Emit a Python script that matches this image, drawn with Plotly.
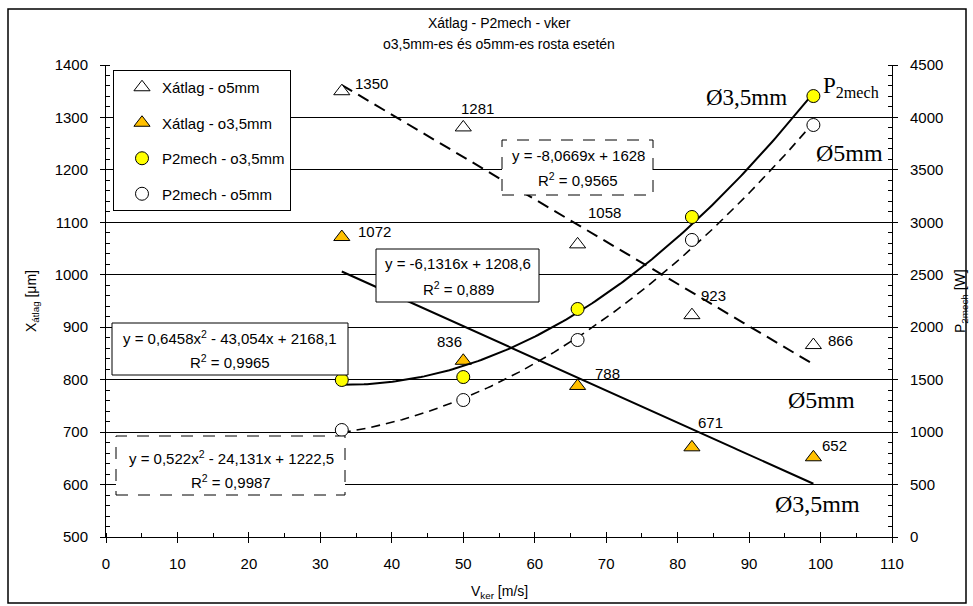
import numpy as np
import plotly.graph_objects as go

# ---------------- data ----------------
v_ker = [33, 50, 66, 82, 99]
x_atlag_5 = [1350, 1281, 1058, 923, 866]
x_atlag_35 = [1072, 836, 788, 671, 652]
p2mech_35 = [1497, 1525, 2174, 3051, 4204]
p2mech_5 = [1020, 1306, 1878, 2832, 3928]

# trendline coefficients (highest power first), as printed on the chart
fit_x5 = [-8.0669, 1628]
fit_x35 = [-6.1316, 1208.6]
fit_p35 = [0.6458, -43.054, 2168.1]
fit_p5 = [0.522, -24.131, 1222.5]
r2_x5 = 0.9565
r2_x35 = 0.889
r2_p35 = 0.9965
r2_p5 = 0.9987

x_ticks = list(range(0, 111, 10))
y_left_range = [500, 1400]
y_right_range = [0, 4500]

# ---------------- layout constants ----------------
W, H = 973, 606
L, R, T, B = 106, 892, 65, 537
FONT = "Liberation Sans, Arial, sans-serif"
SERIF = "Liberation Serif, Times New Roman, serif"


def PX(px):
    return (px - L) / (R - L)


def PY(py):
    return (B - py) / (B - T)


def num(v):
    return f"{abs(v):g}".replace(".", ",")


def equation(coefs):
    n = len(coefs) - 1
    parts = []
    for i, c in enumerate(coefs):
        p = n - i
        var = "x<sup>2</sup>" if p == 2 else ("x" if p == 1 else "")
        if i == 0:
            parts.append(("-" if c < 0 else "") + num(c) + var)
        else:
            parts.append((" - " if c < 0 else " + ") + num(c) + var)
    return "y = " + "".join(parts)


def r2text(r):
    return "R<sup>2</sup> = " + f"{r:g}".replace(".", ",")


xs = np.linspace(min(v_ker), max(v_ker), 150)

fig = go.Figure()

# trendlines
fig.add_trace(go.Scatter(x=xs, y=np.polyval(fit_x5, xs), mode="lines",
                         line=dict(color="black", width=2, dash="12px,7px"),
                         showlegend=False, hoverinfo="skip", yaxis="y"))
fig.add_trace(go.Scatter(x=xs, y=np.polyval(fit_x35, xs), mode="lines",
                         line=dict(color="black", width=2),
                         showlegend=False, hoverinfo="skip", yaxis="y"))
fig.add_trace(go.Scatter(x=xs, y=np.polyval(fit_p35, xs), mode="lines",
                         line=dict(color="black", width=2),
                         showlegend=False, hoverinfo="skip", yaxis="y2"))
fig.add_trace(go.Scatter(x=xs, y=np.polyval(fit_p5, xs), mode="lines",
                         line=dict(color="black", width=1.6, dash="9px,6px"),
                         showlegend=False, hoverinfo="skip", yaxis="y2"))

# markers
fig.add_trace(go.Scatter(x=v_ker, y=x_atlag_5, mode="markers", name="Xátlag - o5mm",
                         legendgroup="a", yaxis="y",
                         marker=dict(symbol="triangle-up", size=14, color="white",
                                     line=dict(color="black", width=1))))
fig.add_trace(go.Scatter(x=v_ker, y=x_atlag_35, mode="markers", name="Xátlag - o3,5mm",
                         legendgroup="b", yaxis="y",
                         marker=dict(symbol="triangle-up", size=14, color="#FFC000",
                                     line=dict(color="black", width=1))))
fig.add_trace(go.Scatter(x=v_ker, y=p2mech_35, mode="markers", name="P2mech - o3,5mm",
                         legendgroup="c", yaxis="y2",
                         marker=dict(symbol="circle", size=13, color="#FFFF00",
                                     line=dict(color="black", width=1))))
fig.add_trace(go.Scatter(x=v_ker, y=p2mech_5, mode="markers", name="P2mech - o5mm",
                         legendgroup="d", yaxis="y2",
                         marker=dict(symbol="circle", size=13, color="white",
                                     line=dict(color="black", width=1))))

# dummy traces for the inner halves of crossing major ticks
fig.add_trace(go.Scatter(x=[], y=[], xaxis="x2", yaxis="y3", showlegend=False, hoverinfo="skip"))
fig.add_trace(go.Scatter(x=[], y=[], xaxis="x2", yaxis="y4", showlegend=False, hoverinfo="skip"))

tickfont = dict(family=FONT, size=15, color="black")

fig.update_layout(
    width=W, height=H,
    margin=dict(l=L, r=W - R, t=T, b=H - B, pad=0),
    paper_bgcolor="white", plot_bgcolor="white",
    font=dict(family=FONT, size=15, color="black"),
    xaxis=dict(range=[0, 110], tickvals=x_ticks, ticks="outside", ticklen=5,
               tickcolor="black", showline=True, linecolor="black", linewidth=1,
               showgrid=False, zeroline=False, tickfont=tickfont, ticklabelstandoff=8,
               minor=dict(dtick=5, tick0=0, ticks="inside", ticklen=4, tickcolor="black",
                          showgrid=False)),
    yaxis=dict(range=y_left_range, dtick=100, ticks="outside", ticklen=5,
               tickcolor="black", showline=True, linecolor="black", linewidth=1,
               showgrid=True, gridcolor="black", gridwidth=1, zeroline=False,
               tickfont=tickfont, ticklabelstandoff=9,
               minor=dict(dtick=20, ticks="inside", ticklen=4, tickcolor="black",
                          showgrid=False)),
    yaxis2=dict(range=y_right_range, dtick=500, overlaying="y", side="right", anchor="x",
                ticks="outside", ticklen=5, tickcolor="black", showline=True,
                linecolor="black", linewidth=1, showgrid=False, zeroline=False,
                tickfont=tickfont, ticklabelstandoff=9,
                minor=dict(dtick=100, ticks="inside", ticklen=4, tickcolor="black",
                           showgrid=False)),
    xaxis2=dict(range=[0, 110], tickvals=x_ticks, overlaying="x", anchor="y", side="bottom",
                ticks="inside", ticklen=5, tickcolor="black", showticklabels=False,
                showline=False, showgrid=False, zeroline=False),
    yaxis3=dict(range=y_left_range, dtick=100, overlaying="y", anchor="x", side="left",
                ticks="inside", ticklen=5, tickcolor="black", showticklabels=False,
                showline=False, showgrid=False, zeroline=False),
    yaxis4=dict(range=y_right_range, dtick=500, overlaying="y", anchor="x", side="right",
                ticks="inside", ticklen=5, tickcolor="black", showticklabels=False,
                showline=False, showgrid=False, zeroline=False),
    legend=dict(x=PX(113), y=PY(70), xanchor="left", yanchor="top",
                bgcolor="white", bordercolor="black", borderwidth=1,
                font=dict(family=FONT, size=15, color="black"),
                tracegroupgap=13, indentation=8, entrywidth=150, entrywidthmode="pixels",
                itemsizing="trace"),
    showlegend=True,
)

shapes = []
annotations = []

# outer chart border
shapes.append(dict(type="rect", xref="paper", yref="paper",
                   x0=PX(8), x1=PX(966), y0=PY(603), y1=PY(9),
                   line=dict(color="black", width=1.5), fillcolor="rgba(0,0,0,0)",
                   layer="above"))

# equation boxes: (x0, x1, y0, y1, dash, line1, line2, center, line1 y, line2 y)
boxes = [
    (502, 653, 140, 195, "dash", equation(fit_x5), r2text(r2_x5), 578, 155, 179),
    (376, 539, 249, 302, "solid", equation(fit_x35), r2text(r2_x35), 458, 263, 288),
    (112, 348, 323, 375, "solid", equation(fit_p35), r2text(r2_p35), 230, 337, 361),
    (116, 345, 436, 495, "dash", equation(fit_p5), r2text(r2_p5), 231, 457, 481),
]
for (x0, x1, y0, y1, dash, t1, t2, cx, ty1, ty2) in boxes:
    shapes.append(dict(type="rect", xref="paper", yref="paper",
                       x0=PX(x0), x1=PX(x1), y0=PY(y1), y1=PY(y0),
                       line=dict(color="black", width=1, dash=("12px,10px" if dash == "dash" else "solid")),
                       fillcolor="white", layer="above"))
    for txt, ty in ((t1, ty1), (t2, ty2)):
        annotations.append(dict(xref="paper", yref="paper", x=PX(cx), y=PY(ty),
                                text=txt, showarrow=False, xanchor="center", yanchor="middle",
                                font=dict(family=FONT, size=15, color="black")))

# data labels (pixel offsets from each point)
off_5 = [(30, 8), (14, 19), (27, 32), (22, 20), (27, 5)]
off_35 = [(33, 6), (-14, 19), (30, 12), (19, 25), (21, 12)]
for xv, yv, (dx, dy) in zip(v_ker, x_atlag_5, off_5):
    annotations.append(dict(x=xv, y=yv, xref="x", yref="y", text=str(yv), showarrow=False,
                            xanchor="center", yanchor="middle",
                            xshift=dx, yshift=dy, font=dict(family=FONT, size=15, color="black")))
for xv, yv, (dx, dy) in zip(v_ker, x_atlag_35, off_35):
    annotations.append(dict(x=xv, y=yv, xref="x", yref="y", text=str(yv), showarrow=False,
                            xanchor="center", yanchor="middle",
                            xshift=dx, yshift=dy, font=dict(family=FONT, size=15, color="black")))

# serif callouts
serif_labels = [
    ("Ø3,5mm", 746, 97, 23),
    ("P<sub>2mech</sub>", 851, 87, 23),
    ("Ø5mm", 849, 153, 24),
    ("Ø5mm", 821, 400, 24),
    ("Ø3,5mm", 817, 504, 24),
]
for txt, cx, cy, fs in serif_labels:
    annotations.append(dict(xref="paper", yref="paper", x=PX(cx), y=PY(cy), text=txt,
                            showarrow=False, xanchor="center", yanchor="middle",
                            font=dict(family=SERIF, size=fs, color="black")))

# titles
title_specs = [
    ("Xátlag - P2mech - vker", 499, 23, 0),
    ("o3,5mm-es és o5mm-es rosta esetén", 499, 44, 0),
    ("V<sub>ker</sub> [m/s]", 499, 592, 0),
    ("X<sub>átlag</sub> [μm]", 32, 301, -90),
    ("P<sub>2mech</sub> [W]", 961, 301, -90),
]
for txt, cx, cy, ang in title_specs:
    annotations.append(dict(xref="paper", yref="paper", x=PX(cx), y=PY(cy), text=txt,
                            showarrow=False, textangle=ang, xanchor="center", yanchor="middle",
                            font=dict(family=FONT, size=14, color="black")))

fig.update_layout(shapes=shapes, annotations=annotations)

fig.write_html("out.html")
